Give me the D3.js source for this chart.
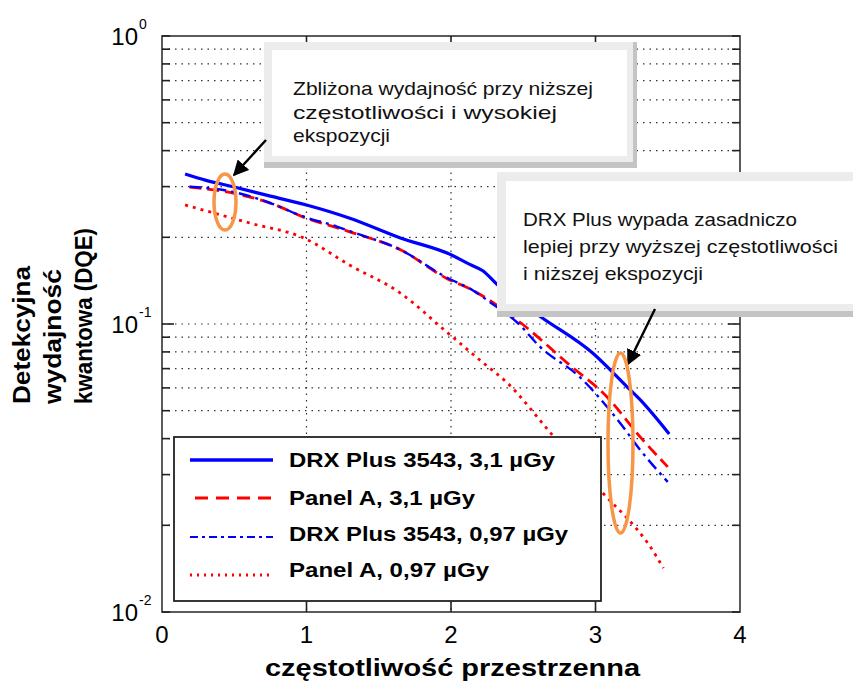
<!DOCTYPE html>
<html>
<head>
<meta charset="utf-8">
<script src="https://cdn.jsdelivr.net/npm/d3@7"></script>
<style>
  html, body { margin: 0; padding: 0; background: #fff; }
  svg { display: block; font-family: "Liberation Sans", Arial, sans-serif; }
</style>
</head>
<body>
<svg id="chart" width="853" height="681"></svg>
<script>
// ---------- DATA ----------
const drx31X   = [0.16, 0.30, 0.50, 0.75, 1.00, 1.30, 1.65, 2.00, 2.13, 2.22, 2.32, 2.62, 2.98, 3.22, 3.31, 3.51];
const drx31Y   = [0.332, 0.316, 0.299, 0.278, 0.259, 0.233, 0.199, 0.174, 0.161, 0.153, 0.137, 0.106, 0.0793, 0.0604, 0.0545, 0.0415];

const panA31X  = [0.19, 0.50, 0.75, 0.98, 1.30, 1.65, 1.97, 2.15, 2.46, 2.82, 3.08, 3.31, 3.50];
const panA31Y  = [0.299, 0.284, 0.263, 0.235, 0.209, 0.181, 0.144, 0.131, 0.103, 0.0721, 0.0558, 0.0405, 0.0319];

const drx097X  = [0.19, 0.50, 0.75, 0.98, 1.21, 1.30, 1.65, 1.97, 2.15, 2.27, 2.46, 2.62, 2.89, 3.17, 3.31, 3.50];
const drx097Y  = [0.300, 0.287, 0.263, 0.236, 0.218, 0.210, 0.181, 0.145, 0.131, 0.119, 0.101, 0.083, 0.0655, 0.0453, 0.0365, 0.0283];

const panA097X = [0.16, 0.61, 0.98, 1.30, 1.65, 1.97, 2.22, 2.39, 2.69, 3.05, 3.29, 3.36, 3.47];
const panA097Y = [0.259, 0.224, 0.199, 0.160, 0.128, 0.0938, 0.0735, 0.0624, 0.0418, 0.0259, 0.0193, 0.0174, 0.0142];

const seriesNames  = ["DRX Plus 3543, 3,1 µGy", "Panel A, 3,1 µGy", "DRX Plus 3543, 0,97 µGy", "Panel A, 0,97 µGy"];
const seriesColors = ["#0000ff", "#ff0000", "#0000ff", "#ff0000"];

const xTickValues = [0, 1, 2, 3, 4];
const yDecadeValues = [1, 0.1, 0.01];
const yDecadeExponents = ["0", "-1", "-2"];

const xTitle = "częstotliwość przestrzenna";
const yTitleLines = ["Detekcyjna", "wydajność", "kwantowa (DQE)"];
const note1Lines = ["Zbliżona wydajność przy niższej", "częstotliwości i wysokiej", "ekspozycji"];
const note2Lines = ["DRX Plus wypada zasadniczo", "lepiej przy wyższej częstotliwości", "i niższej ekspozycji"];
// annotation anchors in data space
const ellipse1At = [0.436, 0.265];
const ellipse2At = [3.173, 0.0386];
const arrow1Tip = [0.498, 0.329];
const arrow2Tip = [3.225, 0.0726];

// ---------- LAYOUT ----------
const svg = d3.select("#chart");
const L = 162, R = 740, T = 36, B = 612;
const x = d3.scaleLinear().domain([0, 4]).range([L, R]);
const y = d3.scaleLog().domain([0.01, 1]).range([B, T]);

const minorVals = [];
[0.01, 0.1].forEach(d => { for (let m = 2; m <= 9; m++) minorVals.push(d * m); });
const allYVals = minorVals.concat([0.1]);

// grid
const grid = svg.append("g").attr("stroke", "#333").attr("stroke-width", 1.2)
  .attr("stroke-dasharray", "1.5,5").attr("fill", "none");
grid.selectAll("line.h").data(allYVals).join("line")
  .attr("x1", L).attr("x2", R).attr("y1", d => y(d)).attr("y2", d => y(d));
grid.selectAll("line.v").data([1, 2, 3]).join("line")
  .attr("y1", T).attr("y2", B).attr("x1", d => x(d)).attr("x2", d => x(d));

// curves
const series = [
  { xs: drx31X, ys: drx31Y, w: 3.2, dash: null },
  { xs: panA31X, ys: panA31Y, w: 2.8, dash: "12,6" },
  { xs: drx097X, ys: drx097Y, w: 2.4, dash: "12,5,3,5" },
  { xs: panA097X, ys: panA097Y, w: 2.8, dash: "3,5" }
];
const line = d3.line().x(d => x(d[0])).y(d => y(d[1])).curve(d3.curveMonotoneX);
const drawOrder = [3, 1, 2, 0];
drawOrder.forEach(i => {
  const s = series[i];
  const pts = s.xs.map((v, k) => [v, s.ys[k]]);
  svg.append("path").datum(pts).attr("d", line)
    .attr("fill", "none").attr("stroke", seriesColors[i])
    .attr("stroke-width", s.w)
    .attr("stroke-dasharray", s.dash);
});

// frame & ticks
svg.append("rect").attr("x", L).attr("y", T).attr("width", R - L).attr("height", B - T)
  .attr("fill", "none").attr("stroke", "#333").attr("stroke-width", 1.6);
const ticks = svg.append("g").attr("stroke", "#222").attr("stroke-width", 1.6);
allYVals.concat([1, 0.01]).forEach(v => {
  const len = (v === 0.1) ? 12 : 8;
  ticks.append("line").attr("x1", L).attr("x2", L + len).attr("y1", y(v)).attr("y2", y(v));
  ticks.append("line").attr("x1", R).attr("x2", R - len).attr("y1", y(v)).attr("y2", y(v));
});
[1, 2, 3].forEach(v => {
  ticks.append("line").attr("x1", x(v)).attr("x2", x(v)).attr("y1", B).attr("y2", B - 10);
  ticks.append("line").attr("x1", x(v)).attr("x2", x(v)).attr("y1", T).attr("y2", T + 10);
});

// tick labels
svg.append("g").selectAll("text").data(xTickValues).join("text")
  .attr("x", d => x(d)).attr("y", 643).attr("text-anchor", "middle")
  .attr("font-size", 24).attr("fill", "#000").text(d => d);
yDecadeValues.forEach((v, i) => {
  svg.append("text").attr("x", 138).attr("y", y(v) + 9).attr("text-anchor", "end")
    .attr("font-size", 24).attr("fill", "#000").text("10");
  svg.append("text").attr("x", 139).attr("y", y(v) - 7)
    .attr("font-size", 14).attr("fill", "#000").text(yDecadeExponents[i]);
});

// axis titles
svg.append("text").attr("x", 265).attr("y", 676).attr("font-size", 24).attr("font-weight", "bold")
  .attr("textLength", 375).attr("lengthAdjust", "spacingAndGlyphs").text(xTitle);
const yTitleLens = [138, 135, 176];
const yTitleBase = [30, 61, 92];
yTitleLines.forEach((t, i) => {
  svg.append("text").attr("transform", `translate(${yTitleBase[i]},404) rotate(-90)`)
    .attr("font-size", 24).attr("font-weight", "bold")
    .attr("textLength", yTitleLens[i]).attr("lengthAdjust", "spacingAndGlyphs").text(t);
});

// legend
const lg = svg.append("g");
lg.append("rect").attr("x", 174).attr("y", 437).attr("width", 427).attr("height", 164)
  .attr("fill", "#fff").attr("stroke", "#222").attr("stroke-width", 1.8);
const legRowY = [460, 498, 537, 575];
const legTextY = [467, 505, 541, 577];
const legLens = [266, 186, 279, 200];
seriesNames.forEach((n, i) => {
  lg.append("line").attr("x1", i === 1 ? 195 : 190).attr("x2", 273)
    .attr("y1", legRowY[i]).attr("y2", legRowY[i])
    .attr("stroke", seriesColors[i]).attr("stroke-width", i === 0 ? 3.4 : (i === 2 ? 2.2 : 3))
    .attr("stroke-dasharray", i === 1 ? "13,8" : (i === 2 ? "8,4,3,4" : (i === 3 ? "2,5" : null)));
  lg.append("text").attr("x", 289).attr("y", legTextY[i]).attr("font-size", 20)
    .attr("font-weight", "bold").attr("textLength", legLens[i]).attr("lengthAdjust", "spacingAndGlyphs")
    .text(n);
});

// annotation boxes
function noteBox(x0, y0, x1, y1, inset, lines, tx, baselines, lens) {
  const g = svg.append("g");
  g.append("rect").attr("x", x0).attr("y", y0).attr("width", x1 - x0).attr("height", y1 - y0).attr("fill", "#c4c4c4");
  g.append("rect").attr("x", x0).attr("y", y0).attr("width", x1 - x0 - 4).attr("height", y1 - y0 - 6).attr("fill", "#ececec");
  g.append("rect").attr("x", x0 + inset).attr("y", y0 + inset).attr("width", x1 - x0 - 2 * inset - 2)
    .attr("height", y1 - y0 - 2 * inset - 4).attr("fill", "#fff");
  lines.forEach((t, i) => {
    g.append("text").attr("x", tx).attr("y", baselines[i]).attr("font-size", 19).attr("fill", "#111")
      .attr("textLength", lens[i]).attr("lengthAdjust", "spacingAndGlyphs").text(t);
  });
}
noteBox(264, 42, 637, 168, 8, note1Lines, 293, [95, 118.5, 142], [300, 264, 97]);
noteBox(497, 172, 866, 317, 9, note2Lines, 523, [226, 253, 280], [274, 315, 180]);

// arrows
const defs = svg.append("defs");
defs.append("marker").attr("id", "ah").attr("viewBox", "0 0 10 10").attr("refX", 9).attr("refY", 5)
  .attr("markerWidth", 6.5).attr("markerHeight", 6.5).attr("markerUnits", "strokeWidth").attr("orient", "auto")
  .append("path").attr("d", "M0,0 L10,5 L0,10 z").attr("fill", "#000");
svg.append("line").attr("x1", 266).attr("y1", 140).attr("x2", x(arrow1Tip[0])).attr("y2", y(arrow1Tip[1]))
  .attr("stroke", "#000").attr("stroke-width", 2.4).attr("marker-end", "url(#ah)");
svg.append("line").attr("x1", 655).attr("y1", 309).attr("x2", x(arrow2Tip[0])).attr("y2", y(arrow2Tip[1]))
  .attr("stroke", "#000").attr("stroke-width", 2.4).attr("marker-end", "url(#ah)");

// ellipses
svg.append("ellipse").attr("cx", x(ellipse1At[0])).attr("cy", y(ellipse1At[1])).attr("rx", 11).attr("ry", 28)
  .attr("fill", "none").attr("stroke", "#f79646").attr("stroke-width", 3.5);
svg.append("ellipse").attr("cx", x(ellipse2At[0])).attr("cy", y(ellipse2At[1])).attr("rx", 12.5).attr("ry", 90)
  .attr("fill", "none").attr("stroke", "#f79646").attr("stroke-width", 3.5);
</script>
</body>
</html>
